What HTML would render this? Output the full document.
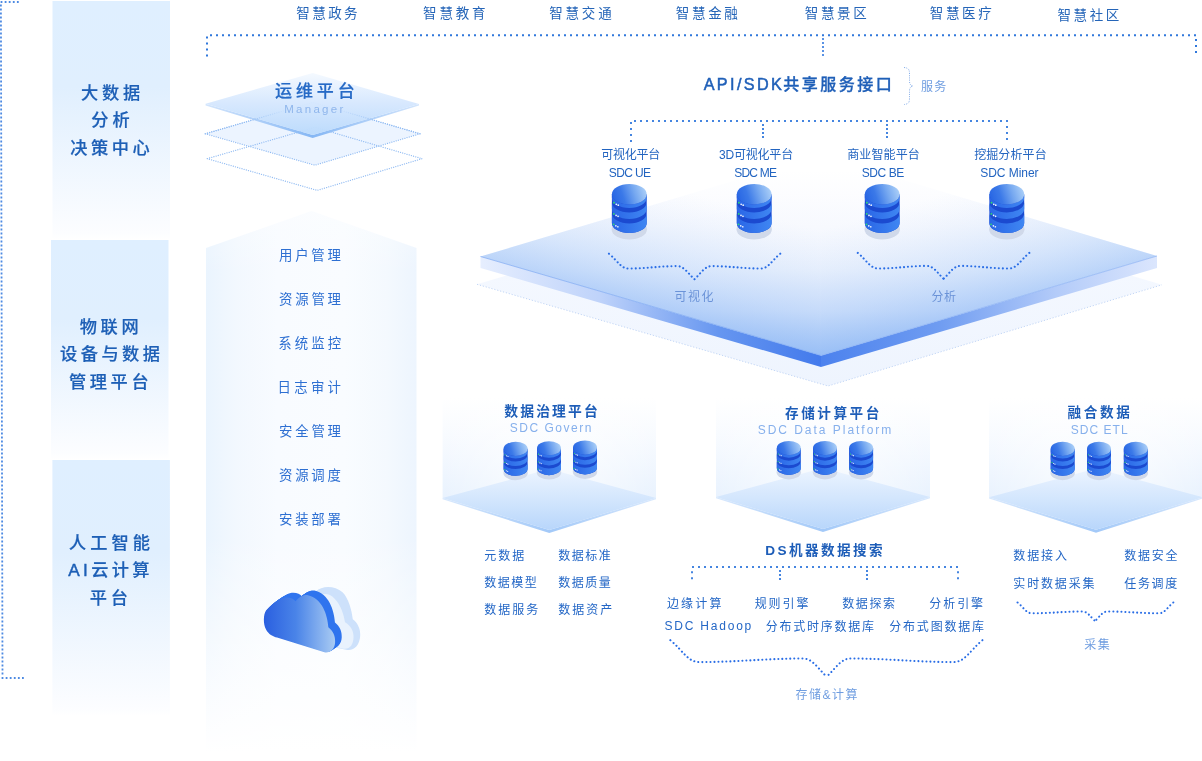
<!DOCTYPE html>
<html lang="zh-CN"><head><meta charset="utf-8"><title>智慧数据平台架构</title>
<style>html,body{margin:0;padding:0;background:#fff;}body{width:1202px;height:761px;overflow:hidden;}svg{display:block;will-change:transform;font-family:'Liberation Sans', 'Noto Sans CJK SC', sans-serif;}</style>
</head><body>
<svg width="1202" height="761" viewBox="0 0 1202 761">
<defs>
<linearGradient id="gPanel" x1="0" y1="0" x2="0" y2="1">
  <stop offset="0" stop-color="#dfefff"/><stop offset="0.36" stop-color="#e0effe"/><stop offset="0.97" stop-color="#fcfdff"/><stop offset="1" stop-color="#ffffff"/>
</linearGradient>
<linearGradient id="gHouseH" x1="0" y1="0" x2="1" y2="0">
  <stop offset="0" stop-color="#eaf4fe"/><stop offset="0.14" stop-color="#f2f8fe"/><stop offset="0.34" stop-color="#f8fbff"/><stop offset="0.66" stop-color="#f9fcff"/><stop offset="0.86" stop-color="#f4f9fe"/><stop offset="1" stop-color="#edf5fe"/>
</linearGradient>
<linearGradient id="gHouseV" x1="0" y1="0" x2="0" y2="1">
  <stop offset="0" stop-color="#ffffff" stop-opacity="0.3"/><stop offset="0.12" stop-color="#ffffff" stop-opacity="0"/><stop offset="0.6" stop-color="#ffffff" stop-opacity="0"/><stop offset="1" stop-color="#ffffff" stop-opacity="1"/>
</linearGradient>
<linearGradient id="gBody" x1="0" y1="0" x2="1" y2="0">
  <stop offset="0" stop-color="#2a66e6"/><stop offset="1" stop-color="#3f86f2"/>
</linearGradient>
<linearGradient id="gDisc" x1="0" y1="0.55" x2="1" y2="0.35">
  <stop offset="0" stop-color="#2866e4"/><stop offset="0.3" stop-color="#3b79e8"/><stop offset="0.65" stop-color="#76a8f0"/><stop offset="1" stop-color="#acd0f8"/>
</linearGradient>
<linearGradient id="gBigTop" gradientUnits="userSpaceOnUse" x1="0" y1="170" x2="0" y2="356">
  <stop offset="0" stop-color="#f8faff" stop-opacity="0"/><stop offset="0.3" stop-color="#f7f9fe" stop-opacity="0.95"/><stop offset="0.54" stop-color="#edf3fd"/><stop offset="0.76" stop-color="#d6e4fb"/><stop offset="1" stop-color="#a4c5f5"/>
</linearGradient>
<linearGradient id="gBigL" gradientUnits="userSpaceOnUse" x1="480" y1="0" x2="821" y2="0">
  <stop offset="0" stop-color="#e6eefe"/><stop offset="0.35" stop-color="#bfd3fa"/><stop offset="0.7" stop-color="#6696f0"/><stop offset="1" stop-color="#437aec"/>
</linearGradient>
<linearGradient id="gBigR" gradientUnits="userSpaceOnUse" x1="821" y1="0" x2="1157" y2="0">
  <stop offset="0" stop-color="#4c82ee"/><stop offset="0.35" stop-color="#6f9cf1"/><stop offset="0.7" stop-color="#b3cbf9"/><stop offset="1" stop-color="#dbe6fd"/>
</linearGradient>
<linearGradient id="gBigLow" gradientUnits="userSpaceOnUse" x1="0" y1="200" x2="0" y2="386">
  <stop offset="0" stop-color="#f4f8ff" stop-opacity="0"/><stop offset="0.4" stop-color="#f4f8ff"/><stop offset="1" stop-color="#eef4fe"/>
</linearGradient>
<linearGradient id="gWall" x1="0" y1="0" x2="0" y2="1">
  <stop offset="0" stop-color="#ecf4fe" stop-opacity="0"/><stop offset="0.3" stop-color="#ecf4fe" stop-opacity="0.4"/><stop offset="0.62" stop-color="#eaf3fe" stop-opacity="0.85"/><stop offset="0.78" stop-color="#e8f2fe" stop-opacity="1"/><stop offset="1" stop-color="#e8f2fe"/>
</linearGradient>
<linearGradient id="gWallH" x1="0" y1="0" x2="1" y2="0">
  <stop offset="0" stop-color="#ffffff" stop-opacity="0"/><stop offset="0.3" stop-color="#ffffff" stop-opacity="0.45"/><stop offset="0.7" stop-color="#ffffff" stop-opacity="0.45"/><stop offset="1" stop-color="#ffffff" stop-opacity="0"/>
</linearGradient>
<linearGradient id="gBase" x1="0" y1="0" x2="0" y2="1">
  <stop offset="0" stop-color="#ecf4ff"/><stop offset="0.5" stop-color="#d3e6fd"/><stop offset="1" stop-color="#b8d6fb"/>
</linearGradient>
<linearGradient id="gMgr" x1="0" y1="0" x2="0" y2="1">
  <stop offset="0" stop-color="#f4f9ff"/><stop offset="0.5" stop-color="#d5e7fe"/><stop offset="1" stop-color="#badafc"/>
</linearGradient>
<linearGradient id="gMgrEdge" x1="0" y1="0" x2="1" y2="0">
  <stop offset="0" stop-color="#d3e5fc"/><stop offset="0.5" stop-color="#86b7f4"/><stop offset="1" stop-color="#d3e5fc"/>
</linearGradient>
<linearGradient id="gThruL" gradientUnits="userSpaceOnUse" x1="205" y1="0" x2="300" y2="0">
  <stop offset="0" stop-color="#8fbaf2"/><stop offset="0.45" stop-color="#8fbaf2" stop-opacity="0.8"/><stop offset="0.85" stop-color="#8fbaf2" stop-opacity="0"/>
</linearGradient>
<linearGradient id="gThruR" gradientUnits="userSpaceOnUse" x1="420" y1="0" x2="325" y2="0">
  <stop offset="0" stop-color="#8fbaf2"/><stop offset="0.45" stop-color="#8fbaf2" stop-opacity="0.8"/><stop offset="0.85" stop-color="#8fbaf2" stop-opacity="0"/>
</linearGradient>
<linearGradient id="gEdgeS" x1="0" y1="0" x2="1" y2="0">
  <stop offset="0" stop-color="#d9e9fd"/><stop offset="0.5" stop-color="#a3c9f8"/><stop offset="1" stop-color="#d9e9fd"/>
</linearGradient>
<linearGradient id="gGlowL" gradientUnits="userSpaceOnUse" x1="650" y1="306" x2="683.5" y2="190.8">
  <stop offset="0" stop-color="#90baf6" stop-opacity="0.55"/><stop offset="0.3" stop-color="#a2c6f8" stop-opacity="0.36"/><stop offset="1" stop-color="#c8dbfa" stop-opacity="0"/>
</linearGradient>
<linearGradient id="gGlowR" gradientUnits="userSpaceOnUse" x1="990" y1="305.5" x2="955.9" y2="190.4">
  <stop offset="0" stop-color="#90baf6" stop-opacity="0.55"/><stop offset="0.3" stop-color="#a2c6f8" stop-opacity="0.36"/><stop offset="1" stop-color="#c8dbfa" stop-opacity="0"/>
</linearGradient>
<linearGradient id="gCloudF" x1="0" y1="0" x2="1" y2="0">
  <stop offset="0" stop-color="#2a5fe0"/><stop offset="0.45" stop-color="#4a84e8"/><stop offset="1" stop-color="#a9cbf3"/>
</linearGradient>
</defs>
<rect width="1202" height="761" fill="#ffffff"/>
<path d="M0.6 2.0 H18.9" fill="none" stroke="#4d8ae2" stroke-width="1.8" stroke-dasharray="1.8 2.2800000000000002"/>
<path d="M0.9 4.6 L2.5 675" fill="none" stroke="#4d8ae2" stroke-width="1.8" stroke-dasharray="1.8 2.2"/>
<path d="M1.6 678.0 H23.9" fill="none" stroke="#4d8ae2" stroke-width="1.8" stroke-dasharray="1.8 2.2800000000000002"/>
<rect x="52.5" y="1" width="117.5" height="239" fill="url(#gPanel)"/>
<rect x="51" y="240" width="117.5" height="220" fill="url(#gPanel)"/>
<rect x="52.4" y="460" width="117.5" height="256" fill="url(#gPanel)"/>
<path d="M210.0 35.2 H1196.0" fill="none" stroke="#3078dc" stroke-width="2" stroke-dasharray="2 4"/>
<path d="M207.0 36.4 V56.4" fill="none" stroke="#3078dc" stroke-width="2" stroke-dasharray="2 4"/>
<path d="M823.0 38.0 V56.0" fill="none" stroke="#5a92e4" stroke-width="2" stroke-dasharray="2 2"/>
<path d="M1196.0 38.9 V52.9" fill="none" stroke="#3078dc" stroke-width="2" stroke-dasharray="2 4"/>
<path d="M205.3 133.8 L314.8 165.2 L420 133.8 L313 102.3 Z" fill="#eaf3ff" fill-opacity="0.92"/>
<path d="M207.2 158.7 L317.2 190.4 L422 158.7 L315 127.3 Z" fill="none" stroke="#8fbaf2" stroke-width="1.3" stroke-linecap="round" stroke-dasharray="0.01 2.25"/>
<path d="M205.3 133.8 L314.8 165.2 L420 133.8 L313 102.3 Z" fill="none" stroke="#8fbaf2" stroke-width="1.3" stroke-linecap="round" stroke-dasharray="0.01 2.25"/>
<polygon points="205.6,103.8 312.7,134.9 419.0,104.0 419.0,105.6 312.7,138.0 205.6,105.4" fill="url(#gMgrEdge)"/>
<polygon points="205.6,103.8 312.7,72.9 419.0,104.0 312.7,134.9" fill="url(#gMgr)" fill-opacity="0.96"/>
<path d="M205.3 133.8 L313 102.3" fill="none" stroke="url(#gThruL)" stroke-width="1.3" stroke-linecap="round" stroke-dasharray="0.01 2.25"/>
<path d="M420 133.8 L313 102.3" fill="none" stroke="url(#gThruR)" stroke-width="1.3" stroke-linecap="round" stroke-dasharray="0.01 2.25"/>
<path d="M206 248 L311.5 211 L416.5 248 L416.5 752 L206 752 Z" fill="url(#gHouseH)"/>
<path d="M205 248 L311.5 210 L417.5 248 L417.5 753 L205 753 Z" fill="url(#gHouseV)"/>
<g transform="translate(240 560)">
<path d="M75.71 31.55 C82.02 25.24 94.64 25.24 102.52 32.33 C108.83 38.64 111.67 50.47 112.78 59.15 C117.98 63.09 120.66 69.40 120.19 75.71 C119.56 85.17 114.35 90.69 107.26 89.91 L88.33 85.96 Z" fill="#cde1fb"/>
<path d="M74.13 39.43 C78.86 33.12 88.33 31.55 94.64 38.64 C100.95 44.95 103.79 54.42 105.05 62.30 C110.41 65.46 113.88 70.98 113.56 77.29 C113.25 85.17 109.62 89.59 103.31 88.64 L88.33 85.17 Z" fill="#e9f2fd"/>
<path transform="translate(0.83 -0.59)" d="M26.03 50.47 C23.34 54.42 23.03 63.88 26.03 69.40 C28.39 74.13 33.12 76.50 37.07 77.60 L84.38 92.27 C89.12 93.38 94.64 90.22 95.11 82.33 C95.43 76.03 93.06 71.29 88.33 67.35 C87.70 55.21 82.02 37.85 67.82 35.17 C62.78 34.70 58.68 37.54 55.52 41.32 C52.84 37.85 46.06 35.96 39.75 39.43 C34.38 42.27 29.65 46.21 26.03 50.47 Z" fill="#2f74ee"/>
<path transform="translate(1.66 -1.18)" d="M26.03 50.47 C23.34 54.42 23.03 63.88 26.03 69.40 C28.39 74.13 33.12 76.50 37.07 77.60 L84.38 92.27 C89.12 93.38 94.64 90.22 95.11 82.33 C95.43 76.03 93.06 71.29 88.33 67.35 C87.70 55.21 82.02 37.85 67.82 35.17 C62.78 34.70 58.68 37.54 55.52 41.32 C52.84 37.85 46.06 35.96 39.75 39.43 C34.38 42.27 29.65 46.21 26.03 50.47 Z" fill="#2f74ee"/>
<path transform="translate(2.48 -1.77)" d="M26.03 50.47 C23.34 54.42 23.03 63.88 26.03 69.40 C28.39 74.13 33.12 76.50 37.07 77.60 L84.38 92.27 C89.12 93.38 94.64 90.22 95.11 82.33 C95.43 76.03 93.06 71.29 88.33 67.35 C87.70 55.21 82.02 37.85 67.82 35.17 C62.78 34.70 58.68 37.54 55.52 41.32 C52.84 37.85 46.06 35.96 39.75 39.43 C34.38 42.27 29.65 46.21 26.03 50.47 Z" fill="#2f74ee"/>
<path transform="translate(3.31 -2.37)" d="M26.03 50.47 C23.34 54.42 23.03 63.88 26.03 69.40 C28.39 74.13 33.12 76.50 37.07 77.60 L84.38 92.27 C89.12 93.38 94.64 90.22 95.11 82.33 C95.43 76.03 93.06 71.29 88.33 67.35 C87.70 55.21 82.02 37.85 67.82 35.17 C62.78 34.70 58.68 37.54 55.52 41.32 C52.84 37.85 46.06 35.96 39.75 39.43 C34.38 42.27 29.65 46.21 26.03 50.47 Z" fill="#2f74ee"/>
<path transform="translate(4.14 -2.96)" d="M26.03 50.47 C23.34 54.42 23.03 63.88 26.03 69.40 C28.39 74.13 33.12 76.50 37.07 77.60 L84.38 92.27 C89.12 93.38 94.64 90.22 95.11 82.33 C95.43 76.03 93.06 71.29 88.33 67.35 C87.70 55.21 82.02 37.85 67.82 35.17 C62.78 34.70 58.68 37.54 55.52 41.32 C52.84 37.85 46.06 35.96 39.75 39.43 C34.38 42.27 29.65 46.21 26.03 50.47 Z" fill="#2f74ee"/>
<path transform="translate(4.97 -3.55)" d="M26.03 50.47 C23.34 54.42 23.03 63.88 26.03 69.40 C28.39 74.13 33.12 76.50 37.07 77.60 L84.38 92.27 C89.12 93.38 94.64 90.22 95.11 82.33 C95.43 76.03 93.06 71.29 88.33 67.35 C87.70 55.21 82.02 37.85 67.82 35.17 C62.78 34.70 58.68 37.54 55.52 41.32 C52.84 37.85 46.06 35.96 39.75 39.43 C34.38 42.27 29.65 46.21 26.03 50.47 Z" fill="#2f74ee"/>
<path transform="translate(5.80 -4.14)" d="M26.03 50.47 C23.34 54.42 23.03 63.88 26.03 69.40 C28.39 74.13 33.12 76.50 37.07 77.60 L84.38 92.27 C89.12 93.38 94.64 90.22 95.11 82.33 C95.43 76.03 93.06 71.29 88.33 67.35 C87.70 55.21 82.02 37.85 67.82 35.17 C62.78 34.70 58.68 37.54 55.52 41.32 C52.84 37.85 46.06 35.96 39.75 39.43 C34.38 42.27 29.65 46.21 26.03 50.47 Z" fill="#2f74ee"/>
<path transform="translate(6.62 -4.73)" d="M26.03 50.47 C23.34 54.42 23.03 63.88 26.03 69.40 C28.39 74.13 33.12 76.50 37.07 77.60 L84.38 92.27 C89.12 93.38 94.64 90.22 95.11 82.33 C95.43 76.03 93.06 71.29 88.33 67.35 C87.70 55.21 82.02 37.85 67.82 35.17 C62.78 34.70 58.68 37.54 55.52 41.32 C52.84 37.85 46.06 35.96 39.75 39.43 C34.38 42.27 29.65 46.21 26.03 50.47 Z" fill="#2f74ee"/>
<path d="M26.03 50.47 C23.34 54.42 23.03 63.88 26.03 69.40 C28.39 74.13 33.12 76.50 37.07 77.60 L84.38 92.27 C89.12 93.38 94.64 90.22 95.11 82.33 C95.43 76.03 93.06 71.29 88.33 67.35 C87.70 55.21 82.02 37.85 67.82 35.17 C62.78 34.70 58.68 37.54 55.52 41.32 C52.84 37.85 46.06 35.96 39.75 39.43 C34.38 42.27 29.65 46.21 26.03 50.47 Z" fill="url(#gCloudF)"/>
</g>
<path d="M904 67.5 C909 68 909.5 70 909.5 74 L909.5 81 C909.5 84 910.5 85.5 913 86 C910.5 86.5 909.5 88 909.5 91 L909.5 98 C909.5 102 909 104 904 104.5" fill="none" stroke="#7ba6e6" stroke-width="0.9" stroke-dasharray="1 1.2"/>
<path d="M634.0 121.0 H1008.0" fill="none" stroke="#4585e0" stroke-width="2" stroke-dasharray="2 4"/>
<path d="M631.0 122.0 V142.0" fill="none" stroke="#4585e0" stroke-width="2" stroke-dasharray="2 4"/>
<path d="M763.0 124.0 V138.0" fill="none" stroke="#4585e0" stroke-width="2" stroke-dasharray="2 2"/>
<path d="M887.0 124.0 V138.0" fill="none" stroke="#4585e0" stroke-width="2" stroke-dasharray="2 2"/>
<path d="M1007.0 126.0 V140.0" fill="none" stroke="#4585e0" stroke-width="2" stroke-dasharray="2 4"/>
<polygon points="477.0,284.3 820.0,183.0 1162.0,284.8 828.0,386.0" fill="url(#gBigLow)"/>
<path d="M477 284.3 L828 386 L1162 284.8" fill="none" stroke="#c2d6f6" stroke-width="1" stroke-dasharray="1.2 1.8"/>
<polygon points="480.5,256.5 821.0,355.5 821.0,367.0 480.5,268.0" fill="url(#gBigL)"/>
<polygon points="821.0,355.5 1157.0,256.0 1157.0,268.0 821.0,367.0" fill="url(#gBigR)"/>
<polygon points="480.5,256.5 820.0,155.0 1157.0,256.0 821.0,355.5" fill="url(#gBigTop)"/>
<polygon points="480.5,256.5 820.0,155.0 821.0,355.5" fill="url(#gGlowL)"/>
<polygon points="820.0,155.0 1157.0,256.0 821.0,355.5" fill="url(#gGlowR)"/>
<path d="M480.5 256.5 L821 355.5" stroke="#7ea8f2" stroke-width="1" fill="none" opacity="0.7"/>
<path d="M821 355.5 L1157 256" stroke="#8db2f4" stroke-width="1" fill="none" opacity="0.7"/>
<g transform="translate(629.3 183.9) scale(0.9943)">
<ellipse cx="0" cy="45.6" rx="17.8" ry="10.4" fill="#d0d9ea"/>
<path d="M-17.5 10.3 L-17.5 39.2 A17.5 10.3 0 0 0 17.5 39.2 L17.5 10.3 Z" fill="#1b4ad0"/>
<path d="M-17.5 10.3 A17.5 10.3 0 0 0 17.5 10.3 L17.5 14.0 A17.5 10.3 0 0 1 -17.5 14.0 Z" fill="url(#gBody)"/>
<path d="M-17.5 18.4 A17.5 10.3 0 0 0 17.5 18.4 L17.5 25.0 A17.5 10.3 0 0 1 -17.5 25.0 Z" fill="url(#gBody)"/>
<path d="M-17.5 29.5 A17.5 10.3 0 0 0 17.5 29.5 L17.5 39.2 A17.5 10.3 0 0 1 -17.5 39.2 Z" fill="url(#gBody)"/>
<ellipse cx="0" cy="10.3" rx="17.5" ry="10.3" fill="url(#gDisc)"/>
<circle cx="-15.4" cy="19.0" r="0.95" fill="#2fd873"/>
<circle cx="-13.1" cy="20.5" r="0.85" fill="#eef4ff"/>
<circle cx="-11.1" cy="21.4" r="0.85" fill="#eef4ff"/>
<circle cx="-15.6" cy="30.2" r="0.95" fill="#2fd873"/>
<circle cx="-13.3" cy="31.7" r="0.85" fill="#eef4ff"/>
<circle cx="-11.3" cy="32.6" r="0.85" fill="#eef4ff"/>
<circle cx="-15.8" cy="40.7" r="0.95" fill="#2fd873"/>
<circle cx="-13.5" cy="42.2" r="0.85" fill="#eef4ff"/>
<circle cx="-11.5" cy="43.1" r="0.85" fill="#eef4ff"/>
</g>
<g transform="translate(754.2 183.9) scale(0.9943)">
<ellipse cx="0" cy="45.6" rx="17.8" ry="10.4" fill="#d0d9ea"/>
<path d="M-17.5 10.3 L-17.5 39.2 A17.5 10.3 0 0 0 17.5 39.2 L17.5 10.3 Z" fill="#1b4ad0"/>
<path d="M-17.5 10.3 A17.5 10.3 0 0 0 17.5 10.3 L17.5 14.0 A17.5 10.3 0 0 1 -17.5 14.0 Z" fill="url(#gBody)"/>
<path d="M-17.5 18.4 A17.5 10.3 0 0 0 17.5 18.4 L17.5 25.0 A17.5 10.3 0 0 1 -17.5 25.0 Z" fill="url(#gBody)"/>
<path d="M-17.5 29.5 A17.5 10.3 0 0 0 17.5 29.5 L17.5 39.2 A17.5 10.3 0 0 1 -17.5 39.2 Z" fill="url(#gBody)"/>
<ellipse cx="0" cy="10.3" rx="17.5" ry="10.3" fill="url(#gDisc)"/>
<circle cx="-15.4" cy="19.0" r="0.95" fill="#2fd873"/>
<circle cx="-13.1" cy="20.5" r="0.85" fill="#eef4ff"/>
<circle cx="-11.1" cy="21.4" r="0.85" fill="#eef4ff"/>
<circle cx="-15.6" cy="30.2" r="0.95" fill="#2fd873"/>
<circle cx="-13.3" cy="31.7" r="0.85" fill="#eef4ff"/>
<circle cx="-11.3" cy="32.6" r="0.85" fill="#eef4ff"/>
<circle cx="-15.8" cy="40.7" r="0.95" fill="#2fd873"/>
<circle cx="-13.5" cy="42.2" r="0.85" fill="#eef4ff"/>
<circle cx="-11.5" cy="43.1" r="0.85" fill="#eef4ff"/>
</g>
<g transform="translate(882.2 183.9) scale(0.9943)">
<ellipse cx="0" cy="45.6" rx="17.8" ry="10.4" fill="#d0d9ea"/>
<path d="M-17.5 10.3 L-17.5 39.2 A17.5 10.3 0 0 0 17.5 39.2 L17.5 10.3 Z" fill="#1b4ad0"/>
<path d="M-17.5 10.3 A17.5 10.3 0 0 0 17.5 10.3 L17.5 14.0 A17.5 10.3 0 0 1 -17.5 14.0 Z" fill="url(#gBody)"/>
<path d="M-17.5 18.4 A17.5 10.3 0 0 0 17.5 18.4 L17.5 25.0 A17.5 10.3 0 0 1 -17.5 25.0 Z" fill="url(#gBody)"/>
<path d="M-17.5 29.5 A17.5 10.3 0 0 0 17.5 29.5 L17.5 39.2 A17.5 10.3 0 0 1 -17.5 39.2 Z" fill="url(#gBody)"/>
<ellipse cx="0" cy="10.3" rx="17.5" ry="10.3" fill="url(#gDisc)"/>
<circle cx="-15.4" cy="19.0" r="0.95" fill="#2fd873"/>
<circle cx="-13.1" cy="20.5" r="0.85" fill="#eef4ff"/>
<circle cx="-11.1" cy="21.4" r="0.85" fill="#eef4ff"/>
<circle cx="-15.6" cy="30.2" r="0.95" fill="#2fd873"/>
<circle cx="-13.3" cy="31.7" r="0.85" fill="#eef4ff"/>
<circle cx="-11.3" cy="32.6" r="0.85" fill="#eef4ff"/>
<circle cx="-15.8" cy="40.7" r="0.95" fill="#2fd873"/>
<circle cx="-13.5" cy="42.2" r="0.85" fill="#eef4ff"/>
<circle cx="-11.5" cy="43.1" r="0.85" fill="#eef4ff"/>
</g>
<g transform="translate(1006.8 183.9) scale(0.9943)">
<ellipse cx="0" cy="45.6" rx="17.8" ry="10.4" fill="#d0d9ea"/>
<path d="M-17.5 10.3 L-17.5 39.2 A17.5 10.3 0 0 0 17.5 39.2 L17.5 10.3 Z" fill="#1b4ad0"/>
<path d="M-17.5 10.3 A17.5 10.3 0 0 0 17.5 10.3 L17.5 14.0 A17.5 10.3 0 0 1 -17.5 14.0 Z" fill="url(#gBody)"/>
<path d="M-17.5 18.4 A17.5 10.3 0 0 0 17.5 18.4 L17.5 25.0 A17.5 10.3 0 0 1 -17.5 25.0 Z" fill="url(#gBody)"/>
<path d="M-17.5 29.5 A17.5 10.3 0 0 0 17.5 29.5 L17.5 39.2 A17.5 10.3 0 0 1 -17.5 39.2 Z" fill="url(#gBody)"/>
<ellipse cx="0" cy="10.3" rx="17.5" ry="10.3" fill="url(#gDisc)"/>
<circle cx="-15.4" cy="19.0" r="0.95" fill="#2fd873"/>
<circle cx="-13.1" cy="20.5" r="0.85" fill="#eef4ff"/>
<circle cx="-11.1" cy="21.4" r="0.85" fill="#eef4ff"/>
<circle cx="-15.6" cy="30.2" r="0.95" fill="#2fd873"/>
<circle cx="-13.3" cy="31.7" r="0.85" fill="#eef4ff"/>
<circle cx="-11.3" cy="32.6" r="0.85" fill="#eef4ff"/>
<circle cx="-15.8" cy="40.7" r="0.95" fill="#2fd873"/>
<circle cx="-13.5" cy="42.2" r="0.85" fill="#eef4ff"/>
<circle cx="-11.5" cy="43.1" r="0.85" fill="#eef4ff"/>
</g>
<path d="M609.0 253.7 C617.9 261.2 620.8 268.5 628.7 268.5 C645.6 268.5 660.1 266.1 677.0 266.1 C684.0 266.1 687.4 272.7 694.4 279.3" fill="none" stroke="#2a6ee6" stroke-width="2.1" stroke-linecap="round" stroke-dasharray="0.01 4.0" opacity="1"/>
<path d="M780.2 253.7 C771.3 261.2 768.4 268.5 760.5 268.5 C743.4 268.5 728.8 266.1 711.8 266.1 C704.8 266.1 701.4 272.7 694.4 279.3" fill="none" stroke="#2a6ee6" stroke-width="2.1" stroke-linecap="round" stroke-dasharray="0.01 4.0" opacity="1"/>
<path d="M857.8 252.9 C867.1 260.8 870.2 268.5 878.5 268.5 C895.4 268.5 909.9 265.9 926.8 265.9 C933.5 265.9 936.9 272.4 943.6 278.8" fill="none" stroke="#2a6ee6" stroke-width="2.1" stroke-linecap="round" stroke-dasharray="0.01 4.0" opacity="1"/>
<path d="M1029.3 252.9 C1020.0 260.8 1016.9 268.5 1008.6 268.5 C991.7 268.5 977.3 265.9 960.4 265.9 C953.7 265.9 950.3 272.4 943.6 278.8" fill="none" stroke="#2a6ee6" stroke-width="2.1" stroke-linecap="round" stroke-dasharray="0.01 4.0" opacity="1"/>
<path d="M442.6 398 L656 398 L656 498 L549.3 530 L442.6 498 Z" fill="url(#gWall)"/>
<path d="M442.6 398 L656 398 L656 498 L549.3 530 L442.6 498 Z" fill="url(#gWallH)"/>
<polygon points="442.6,498.0 549.3,530.0 656.0,498.0 656.0,499.2 549.3,533.0 442.6,499.2" fill="url(#gEdgeS)"/>
<polygon points="442.6,498.0 549.3,469.0 656.0,498.0 549.3,530.0" fill="url(#gBase)"/>
<path d="M716 398 L930 398 L930 497 L823.0 529 L716 497 Z" fill="url(#gWall)"/>
<path d="M716 398 L930 398 L930 497 L823.0 529 L716 497 Z" fill="url(#gWallH)"/>
<polygon points="716.0,497.0 823.0,529.0 930.0,497.0 930.0,498.2 823.0,532.0 716.0,498.2" fill="url(#gEdgeS)"/>
<polygon points="716.0,497.0 823.0,468.0 930.0,497.0 823.0,529.0" fill="url(#gBase)"/>
<path d="M989 398 L1203 398 L1203 497.3 L1096.0 529.7 L989 497.3 Z" fill="url(#gWall)"/>
<path d="M989 398 L1203 398 L1203 497.3 L1096.0 529.7 L989 497.3 Z" fill="url(#gWallH)"/>
<polygon points="989.0,497.3 1096.0,529.7 1203.0,497.3 1203.0,498.5 1096.0,532.7 989.0,498.5" fill="url(#gEdgeS)"/>
<polygon points="989.0,497.3 1096.0,468.5 1203.0,497.3 1096.0,529.7" fill="url(#gBase)"/>
<g transform="translate(515.6 441.8) scale(0.6857)">
<ellipse cx="0" cy="45.6" rx="17.8" ry="10.4" fill="#d0d9ea"/>
<path d="M-17.5 10.3 L-17.5 39.2 A17.5 10.3 0 0 0 17.5 39.2 L17.5 10.3 Z" fill="#1b4ad0"/>
<path d="M-17.5 10.3 A17.5 10.3 0 0 0 17.5 10.3 L17.5 14.0 A17.5 10.3 0 0 1 -17.5 14.0 Z" fill="url(#gBody)"/>
<path d="M-17.5 18.4 A17.5 10.3 0 0 0 17.5 18.4 L17.5 25.0 A17.5 10.3 0 0 1 -17.5 25.0 Z" fill="url(#gBody)"/>
<path d="M-17.5 29.5 A17.5 10.3 0 0 0 17.5 29.5 L17.5 39.2 A17.5 10.3 0 0 1 -17.5 39.2 Z" fill="url(#gBody)"/>
<ellipse cx="0" cy="10.3" rx="17.5" ry="10.3" fill="url(#gDisc)"/>
<circle cx="-15.4" cy="19.0" r="0.95" fill="#2fd873"/>
<circle cx="-13.1" cy="20.5" r="0.85" fill="#eef4ff"/>
<circle cx="-11.1" cy="21.4" r="0.85" fill="#eef4ff"/>
<circle cx="-15.6" cy="30.2" r="0.95" fill="#2fd873"/>
<circle cx="-13.3" cy="31.7" r="0.85" fill="#eef4ff"/>
<circle cx="-11.3" cy="32.6" r="0.85" fill="#eef4ff"/>
<circle cx="-15.8" cy="40.7" r="0.95" fill="#2fd873"/>
<circle cx="-13.5" cy="42.2" r="0.85" fill="#eef4ff"/>
<circle cx="-11.5" cy="43.1" r="0.85" fill="#eef4ff"/>
</g>
<g transform="translate(549.0 441.2) scale(0.6857)">
<ellipse cx="0" cy="45.6" rx="17.8" ry="10.4" fill="#d0d9ea"/>
<path d="M-17.5 10.3 L-17.5 39.2 A17.5 10.3 0 0 0 17.5 39.2 L17.5 10.3 Z" fill="#1b4ad0"/>
<path d="M-17.5 10.3 A17.5 10.3 0 0 0 17.5 10.3 L17.5 14.0 A17.5 10.3 0 0 1 -17.5 14.0 Z" fill="url(#gBody)"/>
<path d="M-17.5 18.4 A17.5 10.3 0 0 0 17.5 18.4 L17.5 25.0 A17.5 10.3 0 0 1 -17.5 25.0 Z" fill="url(#gBody)"/>
<path d="M-17.5 29.5 A17.5 10.3 0 0 0 17.5 29.5 L17.5 39.2 A17.5 10.3 0 0 1 -17.5 39.2 Z" fill="url(#gBody)"/>
<ellipse cx="0" cy="10.3" rx="17.5" ry="10.3" fill="url(#gDisc)"/>
<circle cx="-15.4" cy="19.0" r="0.95" fill="#2fd873"/>
<circle cx="-13.1" cy="20.5" r="0.85" fill="#eef4ff"/>
<circle cx="-11.1" cy="21.4" r="0.85" fill="#eef4ff"/>
<circle cx="-15.6" cy="30.2" r="0.95" fill="#2fd873"/>
<circle cx="-13.3" cy="31.7" r="0.85" fill="#eef4ff"/>
<circle cx="-11.3" cy="32.6" r="0.85" fill="#eef4ff"/>
<circle cx="-15.8" cy="40.7" r="0.95" fill="#2fd873"/>
<circle cx="-13.5" cy="42.2" r="0.85" fill="#eef4ff"/>
<circle cx="-11.5" cy="43.1" r="0.85" fill="#eef4ff"/>
</g>
<g transform="translate(585.0 440.5) scale(0.6857)">
<ellipse cx="0" cy="45.6" rx="17.8" ry="10.4" fill="#d0d9ea"/>
<path d="M-17.5 10.3 L-17.5 39.2 A17.5 10.3 0 0 0 17.5 39.2 L17.5 10.3 Z" fill="#1b4ad0"/>
<path d="M-17.5 10.3 A17.5 10.3 0 0 0 17.5 10.3 L17.5 14.0 A17.5 10.3 0 0 1 -17.5 14.0 Z" fill="url(#gBody)"/>
<path d="M-17.5 18.4 A17.5 10.3 0 0 0 17.5 18.4 L17.5 25.0 A17.5 10.3 0 0 1 -17.5 25.0 Z" fill="url(#gBody)"/>
<path d="M-17.5 29.5 A17.5 10.3 0 0 0 17.5 29.5 L17.5 39.2 A17.5 10.3 0 0 1 -17.5 39.2 Z" fill="url(#gBody)"/>
<ellipse cx="0" cy="10.3" rx="17.5" ry="10.3" fill="url(#gDisc)"/>
<circle cx="-15.4" cy="19.0" r="0.95" fill="#2fd873"/>
<circle cx="-13.1" cy="20.5" r="0.85" fill="#eef4ff"/>
<circle cx="-11.1" cy="21.4" r="0.85" fill="#eef4ff"/>
<circle cx="-15.6" cy="30.2" r="0.95" fill="#2fd873"/>
<circle cx="-13.3" cy="31.7" r="0.85" fill="#eef4ff"/>
<circle cx="-11.3" cy="32.6" r="0.85" fill="#eef4ff"/>
<circle cx="-15.8" cy="40.7" r="0.95" fill="#2fd873"/>
<circle cx="-13.5" cy="42.2" r="0.85" fill="#eef4ff"/>
<circle cx="-11.5" cy="43.1" r="0.85" fill="#eef4ff"/>
</g>
<g transform="translate(788.8 441.0) scale(0.6857)">
<ellipse cx="0" cy="45.6" rx="17.8" ry="10.4" fill="#d0d9ea"/>
<path d="M-17.5 10.3 L-17.5 39.2 A17.5 10.3 0 0 0 17.5 39.2 L17.5 10.3 Z" fill="#1b4ad0"/>
<path d="M-17.5 10.3 A17.5 10.3 0 0 0 17.5 10.3 L17.5 14.0 A17.5 10.3 0 0 1 -17.5 14.0 Z" fill="url(#gBody)"/>
<path d="M-17.5 18.4 A17.5 10.3 0 0 0 17.5 18.4 L17.5 25.0 A17.5 10.3 0 0 1 -17.5 25.0 Z" fill="url(#gBody)"/>
<path d="M-17.5 29.5 A17.5 10.3 0 0 0 17.5 29.5 L17.5 39.2 A17.5 10.3 0 0 1 -17.5 39.2 Z" fill="url(#gBody)"/>
<ellipse cx="0" cy="10.3" rx="17.5" ry="10.3" fill="url(#gDisc)"/>
<circle cx="-15.4" cy="19.0" r="0.95" fill="#2fd873"/>
<circle cx="-13.1" cy="20.5" r="0.85" fill="#eef4ff"/>
<circle cx="-11.1" cy="21.4" r="0.85" fill="#eef4ff"/>
<circle cx="-15.6" cy="30.2" r="0.95" fill="#2fd873"/>
<circle cx="-13.3" cy="31.7" r="0.85" fill="#eef4ff"/>
<circle cx="-11.3" cy="32.6" r="0.85" fill="#eef4ff"/>
<circle cx="-15.8" cy="40.7" r="0.95" fill="#2fd873"/>
<circle cx="-13.5" cy="42.2" r="0.85" fill="#eef4ff"/>
<circle cx="-11.5" cy="43.1" r="0.85" fill="#eef4ff"/>
</g>
<g transform="translate(825.0 441.0) scale(0.6857)">
<ellipse cx="0" cy="45.6" rx="17.8" ry="10.4" fill="#d0d9ea"/>
<path d="M-17.5 10.3 L-17.5 39.2 A17.5 10.3 0 0 0 17.5 39.2 L17.5 10.3 Z" fill="#1b4ad0"/>
<path d="M-17.5 10.3 A17.5 10.3 0 0 0 17.5 10.3 L17.5 14.0 A17.5 10.3 0 0 1 -17.5 14.0 Z" fill="url(#gBody)"/>
<path d="M-17.5 18.4 A17.5 10.3 0 0 0 17.5 18.4 L17.5 25.0 A17.5 10.3 0 0 1 -17.5 25.0 Z" fill="url(#gBody)"/>
<path d="M-17.5 29.5 A17.5 10.3 0 0 0 17.5 29.5 L17.5 39.2 A17.5 10.3 0 0 1 -17.5 39.2 Z" fill="url(#gBody)"/>
<ellipse cx="0" cy="10.3" rx="17.5" ry="10.3" fill="url(#gDisc)"/>
<circle cx="-15.4" cy="19.0" r="0.95" fill="#2fd873"/>
<circle cx="-13.1" cy="20.5" r="0.85" fill="#eef4ff"/>
<circle cx="-11.1" cy="21.4" r="0.85" fill="#eef4ff"/>
<circle cx="-15.6" cy="30.2" r="0.95" fill="#2fd873"/>
<circle cx="-13.3" cy="31.7" r="0.85" fill="#eef4ff"/>
<circle cx="-11.3" cy="32.6" r="0.85" fill="#eef4ff"/>
<circle cx="-15.8" cy="40.7" r="0.95" fill="#2fd873"/>
<circle cx="-13.5" cy="42.2" r="0.85" fill="#eef4ff"/>
<circle cx="-11.5" cy="43.1" r="0.85" fill="#eef4ff"/>
</g>
<g transform="translate(861.1 441.0) scale(0.6857)">
<ellipse cx="0" cy="45.6" rx="17.8" ry="10.4" fill="#d0d9ea"/>
<path d="M-17.5 10.3 L-17.5 39.2 A17.5 10.3 0 0 0 17.5 39.2 L17.5 10.3 Z" fill="#1b4ad0"/>
<path d="M-17.5 10.3 A17.5 10.3 0 0 0 17.5 10.3 L17.5 14.0 A17.5 10.3 0 0 1 -17.5 14.0 Z" fill="url(#gBody)"/>
<path d="M-17.5 18.4 A17.5 10.3 0 0 0 17.5 18.4 L17.5 25.0 A17.5 10.3 0 0 1 -17.5 25.0 Z" fill="url(#gBody)"/>
<path d="M-17.5 29.5 A17.5 10.3 0 0 0 17.5 29.5 L17.5 39.2 A17.5 10.3 0 0 1 -17.5 39.2 Z" fill="url(#gBody)"/>
<ellipse cx="0" cy="10.3" rx="17.5" ry="10.3" fill="url(#gDisc)"/>
<circle cx="-15.4" cy="19.0" r="0.95" fill="#2fd873"/>
<circle cx="-13.1" cy="20.5" r="0.85" fill="#eef4ff"/>
<circle cx="-11.1" cy="21.4" r="0.85" fill="#eef4ff"/>
<circle cx="-15.6" cy="30.2" r="0.95" fill="#2fd873"/>
<circle cx="-13.3" cy="31.7" r="0.85" fill="#eef4ff"/>
<circle cx="-11.3" cy="32.6" r="0.85" fill="#eef4ff"/>
<circle cx="-15.8" cy="40.7" r="0.95" fill="#2fd873"/>
<circle cx="-13.5" cy="42.2" r="0.85" fill="#eef4ff"/>
<circle cx="-11.5" cy="43.1" r="0.85" fill="#eef4ff"/>
</g>
<g transform="translate(1062.7 441.8) scale(0.6857)">
<ellipse cx="0" cy="45.6" rx="17.8" ry="10.4" fill="#d0d9ea"/>
<path d="M-17.5 10.3 L-17.5 39.2 A17.5 10.3 0 0 0 17.5 39.2 L17.5 10.3 Z" fill="#1b4ad0"/>
<path d="M-17.5 10.3 A17.5 10.3 0 0 0 17.5 10.3 L17.5 14.0 A17.5 10.3 0 0 1 -17.5 14.0 Z" fill="url(#gBody)"/>
<path d="M-17.5 18.4 A17.5 10.3 0 0 0 17.5 18.4 L17.5 25.0 A17.5 10.3 0 0 1 -17.5 25.0 Z" fill="url(#gBody)"/>
<path d="M-17.5 29.5 A17.5 10.3 0 0 0 17.5 29.5 L17.5 39.2 A17.5 10.3 0 0 1 -17.5 39.2 Z" fill="url(#gBody)"/>
<ellipse cx="0" cy="10.3" rx="17.5" ry="10.3" fill="url(#gDisc)"/>
<circle cx="-15.4" cy="19.0" r="0.95" fill="#2fd873"/>
<circle cx="-13.1" cy="20.5" r="0.85" fill="#eef4ff"/>
<circle cx="-11.1" cy="21.4" r="0.85" fill="#eef4ff"/>
<circle cx="-15.6" cy="30.2" r="0.95" fill="#2fd873"/>
<circle cx="-13.3" cy="31.7" r="0.85" fill="#eef4ff"/>
<circle cx="-11.3" cy="32.6" r="0.85" fill="#eef4ff"/>
<circle cx="-15.8" cy="40.7" r="0.95" fill="#2fd873"/>
<circle cx="-13.5" cy="42.2" r="0.85" fill="#eef4ff"/>
<circle cx="-11.5" cy="43.1" r="0.85" fill="#eef4ff"/>
</g>
<g transform="translate(1099.0 441.8) scale(0.6857)">
<ellipse cx="0" cy="45.6" rx="17.8" ry="10.4" fill="#d0d9ea"/>
<path d="M-17.5 10.3 L-17.5 39.2 A17.5 10.3 0 0 0 17.5 39.2 L17.5 10.3 Z" fill="#1b4ad0"/>
<path d="M-17.5 10.3 A17.5 10.3 0 0 0 17.5 10.3 L17.5 14.0 A17.5 10.3 0 0 1 -17.5 14.0 Z" fill="url(#gBody)"/>
<path d="M-17.5 18.4 A17.5 10.3 0 0 0 17.5 18.4 L17.5 25.0 A17.5 10.3 0 0 1 -17.5 25.0 Z" fill="url(#gBody)"/>
<path d="M-17.5 29.5 A17.5 10.3 0 0 0 17.5 29.5 L17.5 39.2 A17.5 10.3 0 0 1 -17.5 39.2 Z" fill="url(#gBody)"/>
<ellipse cx="0" cy="10.3" rx="17.5" ry="10.3" fill="url(#gDisc)"/>
<circle cx="-15.4" cy="19.0" r="0.95" fill="#2fd873"/>
<circle cx="-13.1" cy="20.5" r="0.85" fill="#eef4ff"/>
<circle cx="-11.1" cy="21.4" r="0.85" fill="#eef4ff"/>
<circle cx="-15.6" cy="30.2" r="0.95" fill="#2fd873"/>
<circle cx="-13.3" cy="31.7" r="0.85" fill="#eef4ff"/>
<circle cx="-11.3" cy="32.6" r="0.85" fill="#eef4ff"/>
<circle cx="-15.8" cy="40.7" r="0.95" fill="#2fd873"/>
<circle cx="-13.5" cy="42.2" r="0.85" fill="#eef4ff"/>
<circle cx="-11.5" cy="43.1" r="0.85" fill="#eef4ff"/>
</g>
<g transform="translate(1135.8 441.8) scale(0.6857)">
<ellipse cx="0" cy="45.6" rx="17.8" ry="10.4" fill="#d0d9ea"/>
<path d="M-17.5 10.3 L-17.5 39.2 A17.5 10.3 0 0 0 17.5 39.2 L17.5 10.3 Z" fill="#1b4ad0"/>
<path d="M-17.5 10.3 A17.5 10.3 0 0 0 17.5 10.3 L17.5 14.0 A17.5 10.3 0 0 1 -17.5 14.0 Z" fill="url(#gBody)"/>
<path d="M-17.5 18.4 A17.5 10.3 0 0 0 17.5 18.4 L17.5 25.0 A17.5 10.3 0 0 1 -17.5 25.0 Z" fill="url(#gBody)"/>
<path d="M-17.5 29.5 A17.5 10.3 0 0 0 17.5 29.5 L17.5 39.2 A17.5 10.3 0 0 1 -17.5 39.2 Z" fill="url(#gBody)"/>
<ellipse cx="0" cy="10.3" rx="17.5" ry="10.3" fill="url(#gDisc)"/>
<circle cx="-15.4" cy="19.0" r="0.95" fill="#2fd873"/>
<circle cx="-13.1" cy="20.5" r="0.85" fill="#eef4ff"/>
<circle cx="-11.1" cy="21.4" r="0.85" fill="#eef4ff"/>
<circle cx="-15.6" cy="30.2" r="0.95" fill="#2fd873"/>
<circle cx="-13.3" cy="31.7" r="0.85" fill="#eef4ff"/>
<circle cx="-11.3" cy="32.6" r="0.85" fill="#eef4ff"/>
<circle cx="-15.8" cy="40.7" r="0.95" fill="#2fd873"/>
<circle cx="-13.5" cy="42.2" r="0.85" fill="#eef4ff"/>
<circle cx="-11.5" cy="43.1" r="0.85" fill="#eef4ff"/>
</g>
<path d="M692.0 567.0 H958.0" fill="none" stroke="#4585e0" stroke-width="2" stroke-dasharray="2 4"/>
<path d="M692.0 571.2 V579.2" fill="none" stroke="#4585e0" stroke-width="2" stroke-dasharray="2 4"/>
<path d="M780.0 570.0 V580.0" fill="none" stroke="#4585e0" stroke-width="2" stroke-dasharray="2 2"/>
<path d="M867.0 570.0 V580.0" fill="none" stroke="#4585e0" stroke-width="2" stroke-dasharray="2 2"/>
<path d="M958.0 571.2 V579.2" fill="none" stroke="#4585e0" stroke-width="2" stroke-dasharray="2 4"/>
<path d="M670.4 640.2 C683.5 651.3 687.9 662.1 699.5 662.1 C735.7 662.1 766.7 658.5 802.9 658.5 C812.4 658.5 817.2 667.7 826.7 676.7" fill="none" stroke="#2a6ee6" stroke-width="2.1" stroke-linecap="round" stroke-dasharray="0.01 4.0" opacity="1"/>
<path d="M982.4 640.2 C969.3 651.3 964.9 662.1 953.3 662.1 C917.3 662.1 886.5 658.5 850.5 658.5 C841.0 658.5 836.2 667.7 826.7 676.7" fill="none" stroke="#2a6ee6" stroke-width="2.1" stroke-linecap="round" stroke-dasharray="0.01 4.0" opacity="1"/>
<path d="M1017.6 602.5 C1024.1 607.9 1026.2 613.3 1032.0 613.3 C1049.7 613.3 1064.8 611.5 1082.5 611.5 C1087.5 611.5 1090.0 616.3 1095.0 621.0" fill="none" stroke="#2a6ee6" stroke-width="2.1" stroke-linecap="round" stroke-dasharray="0.01 4.0" opacity="1"/>
<path d="M1173.3 602.5 C1166.8 607.9 1164.7 613.3 1158.9 613.3 C1140.9 613.3 1125.5 611.5 1107.5 611.5 C1102.5 611.5 1100.0 616.3 1095.0 621.0" fill="none" stroke="#2a6ee6" stroke-width="2.1" stroke-linecap="round" stroke-dasharray="0.01 4.0" opacity="1"/>
<text x="296.20" y="13.80" font-size="13.5" letter-spacing="2.47" font-weight="400" fill="#2565b8" dominant-baseline="central">智慧政务</text>
<text x="423.06" y="13.80" font-size="13.5" letter-spacing="2.83" font-weight="400" fill="#2565b8" dominant-baseline="central">智慧教育</text>
<text x="549.20" y="13.80" font-size="13.5" letter-spacing="2.83" font-weight="400" fill="#2565b8" dominant-baseline="central">智慧交通</text>
<text x="675.84" y="13.80" font-size="13.5" letter-spacing="2.67" font-weight="400" fill="#2565b8" dominant-baseline="central">智慧金融</text>
<text x="804.78" y="13.80" font-size="13.5" letter-spacing="2.63" font-weight="400" fill="#2565b8" dominant-baseline="central">智慧景区</text>
<text x="929.70" y="13.80" font-size="13.5" letter-spacing="2.70" font-weight="400" fill="#2565b8" dominant-baseline="central">智慧医疗</text>
<text x="1057.42" y="15.90" font-size="13.5" letter-spacing="2.63" font-weight="400" fill="#2565b8" dominant-baseline="central">智慧社区</text>
<text x="80.92" y="92.60" font-size="17.2" letter-spacing="3.80" font-weight="500" fill="#1d5fb6" stroke="#1d5fb6" stroke-width="0.2" dominant-baseline="central">大数据</text>
<text x="91.20" y="119.90" font-size="17.2" letter-spacing="4.10" font-weight="500" fill="#1d5fb6" stroke="#1d5fb6" stroke-width="0.2" dominant-baseline="central">分析</text>
<text x="70.20" y="147.60" font-size="17.2" letter-spacing="3.60" font-weight="500" fill="#1d5fb6" stroke="#1d5fb6" stroke-width="0.2" dominant-baseline="central">决策中心</text>
<text x="79.64" y="326.60" font-size="17.2" letter-spacing="3.80" font-weight="500" fill="#1d5fb6" stroke="#1d5fb6" stroke-width="0.2" dominant-baseline="central">物联网</text>
<text x="60.00" y="353.80" font-size="17.2" letter-spacing="3.52" font-weight="500" fill="#1d5fb6" stroke="#1d5fb6" stroke-width="0.2" dominant-baseline="central">设备与数据</text>
<text x="68.98" y="382.10" font-size="17.2" letter-spacing="3.63" font-weight="500" fill="#1d5fb6" stroke="#1d5fb6" stroke-width="0.2" dominant-baseline="central">管理平台</text>
<text x="68.98" y="543.20" font-size="17.2" letter-spacing="4.10" font-weight="500" fill="#1d5fb6" stroke="#1d5fb6" stroke-width="0.2" dominant-baseline="central">人工智能</text>
<text x="68.28" y="569.50" font-size="17.2" letter-spacing="3.35" font-weight="500" fill="#1d5fb6" stroke="#1d5fb6" stroke-width="0.2" dominant-baseline="central"><tspan stroke="#1d5fb6" stroke-width="0.45">AI</tspan>云计算</text>
<text x="89.84" y="598.20" font-size="17.2" letter-spacing="3.80" font-weight="500" fill="#1d5fb6" stroke="#1d5fb6" stroke-width="0.2" dominant-baseline="central">平台</text>
<text x="275.06" y="91.20" font-size="17" letter-spacing="3.90" font-weight="500" fill="#266ac6" stroke="#266ac6" stroke-width="0.2" dominant-baseline="central">运维平台</text>
<text x="284.28" y="109.20" font-size="11.5" letter-spacing="2.27" font-weight="400" fill="#8fb6ec" dominant-baseline="central">Manager</text>
<text font-weight="500" fill="#1f5fb8" dominant-baseline="central"><tspan x="703.64" y="84.20" font-size="16.2" letter-spacing="2.40" font-weight="400" stroke="#1f5fb8" stroke-width="0.5">API/SDK</tspan><tspan x="783.34" y="83.70" font-size="16" letter-spacing="2.50" stroke="#1f5fb8" stroke-width="0.3">共享服务接口</tspan></text>
<text x="921.06" y="87.00" font-size="12" letter-spacing="1.10" font-weight="400" fill="#6f9de0" dominant-baseline="central">服务</text>
<text x="601.28" y="154.50" font-size="12" letter-spacing="-0.23" font-weight="400" fill="#2264c0" dominant-baseline="central">可视化平台</text>
<text x="608.84" y="172.80" font-size="12" letter-spacing="-0.62" font-weight="400" fill="#2264c0" dominant-baseline="central">SDC UE</text>
<text x="719.00" y="154.50" font-size="12" letter-spacing="-0.20" font-weight="400" fill="#2264c0" dominant-baseline="central">3D可视化平台</text>
<text x="734.34" y="172.80" font-size="12" letter-spacing="-0.82" font-weight="400" fill="#2264c0" dominant-baseline="central">SDC ME</text>
<text x="847.28" y="154.50" font-size="12" letter-spacing="0.10" font-weight="400" fill="#2264c0" dominant-baseline="central">商业智能平台</text>
<text x="861.84" y="172.80" font-size="12" letter-spacing="-0.46" font-weight="400" fill="#2264c0" dominant-baseline="central">SDC BE</text>
<text x="974.14" y="154.50" font-size="12" letter-spacing="0.10" font-weight="400" fill="#2264c0" dominant-baseline="central">挖掘分析平台</text>
<text x="980.20" y="172.80" font-size="12" letter-spacing="-0.04" font-weight="400" fill="#2264c0" dominant-baseline="central">SDC Miner</text>
<text x="674.50" y="297.30" font-size="12" letter-spacing="1.50" font-weight="400" fill="#6b93d8" dominant-baseline="central">可视化</text>
<text x="931.56" y="297.00" font-size="12" letter-spacing="0.50" font-weight="400" fill="#6b93d8" dominant-baseline="central">分析</text>
<text x="279.06" y="255.90" font-size="13.4" letter-spacing="2.73" font-weight="400" fill="#2d6fd2" dominant-baseline="central">用户管理</text>
<text x="279.06" y="299.90" font-size="13.4" letter-spacing="2.80" font-weight="400" fill="#2d6fd2" dominant-baseline="central">资源管理</text>
<text x="278.26" y="343.90" font-size="13.4" letter-spacing="3.07" font-weight="400" fill="#2d6fd2" dominant-baseline="central">系统监控</text>
<text x="277.46" y="387.90" font-size="13.4" letter-spacing="3.33" font-weight="400" fill="#2d6fd2" dominant-baseline="central">日志审计</text>
<text x="279.06" y="431.90" font-size="13.4" letter-spacing="2.80" font-weight="400" fill="#2d6fd2" dominant-baseline="central">安全管理</text>
<text x="279.06" y="475.90" font-size="13.4" letter-spacing="2.73" font-weight="400" fill="#2d6fd2" dominant-baseline="central">资源调度</text>
<text x="279.06" y="519.90" font-size="13.4" letter-spacing="2.73" font-weight="400" fill="#2d6fd2" dominant-baseline="central">安装部署</text>
<text x="504.28" y="411.40" font-size="13.8" letter-spacing="2.14" font-weight="700" fill="#1d5db8" dominant-baseline="central">数据治理平台</text>
<text x="509.84" y="427.90" font-size="12" letter-spacing="1.50" font-weight="400" fill="#86b0ec" dominant-baseline="central">SDC Govern</text>
<text x="785.06" y="413.00" font-size="13.6" letter-spacing="2.54" font-weight="700" fill="#1d5db8" dominant-baseline="central">存储计算平台</text>
<text x="757.70" y="429.80" font-size="12" letter-spacing="1.97" font-weight="400" fill="#86b0ec" dominant-baseline="central">SDC Data Platform</text>
<text x="1067.50" y="412.30" font-size="13.6" letter-spacing="2.63" font-weight="700" fill="#1d5db8" dominant-baseline="central">融合数据</text>
<text x="1070.70" y="429.80" font-size="12" letter-spacing="1.05" font-weight="400" fill="#86b0ec" dominant-baseline="central">SDC ETL</text>
<text x="484.28" y="555.60" font-size="12" letter-spacing="2.00" font-weight="400" fill="#2467c6" dominant-baseline="central">元数据</text>
<text x="558.14" y="555.60" font-size="12" letter-spacing="1.50" font-weight="400" fill="#2467c6" dominant-baseline="central">数据标准</text>
<text x="484.28" y="582.95" font-size="12" letter-spacing="1.50" font-weight="400" fill="#2467c6" dominant-baseline="central">数据模型</text>
<text x="558.14" y="582.95" font-size="12" letter-spacing="1.50" font-weight="400" fill="#2467c6" dominant-baseline="central">数据质量</text>
<text x="484.28" y="610.30" font-size="12" letter-spacing="2.00" font-weight="400" fill="#2467c6" dominant-baseline="central">数据服务</text>
<text x="558.14" y="610.30" font-size="12" letter-spacing="2.00" font-weight="400" fill="#2467c6" dominant-baseline="central">数据资产</text>
<text x="765.34" y="550.40" font-size="13.6" letter-spacing="2.39" font-weight="700" fill="#1d5db8" dominant-baseline="central">DS机器数据搜索</text>
<text x="666.92" y="604.40" font-size="12" letter-spacing="2.17" font-weight="400" fill="#2467c6" dominant-baseline="central">边缘计算</text>
<text x="754.64" y="604.40" font-size="12" letter-spacing="1.97" font-weight="400" fill="#2467c6" dominant-baseline="central">规则引擎</text>
<text x="842.28" y="604.40" font-size="12" letter-spacing="1.57" font-weight="400" fill="#2467c6" dominant-baseline="central">数据探索</text>
<text x="929.20" y="604.40" font-size="12" letter-spacing="1.97" font-weight="400" fill="#2467c6" dominant-baseline="central">分析引擎</text>
<text x="664.48" y="625.60" font-size="12" letter-spacing="1.79" font-weight="400" fill="#2467c6" dominant-baseline="central">SDC Hadoop</text>
<text x="765.84" y="626.80" font-size="12" letter-spacing="1.73" font-weight="400" fill="#2467c6" dominant-baseline="central">分布式时序数据库</text>
<text x="889.28" y="626.80" font-size="12" letter-spacing="1.80" font-weight="400" fill="#2467c6" dominant-baseline="central">分布式图数据库</text>
<text x="795.42" y="694.80" font-size="12" letter-spacing="1.50" font-weight="400" fill="#6f9de0" dominant-baseline="central">存储&amp;计算</text>
<text x="1013.28" y="556.20" font-size="12" letter-spacing="1.90" font-weight="400" fill="#2467c6" dominant-baseline="central">数据接入</text>
<text x="1124.28" y="556.20" font-size="12" letter-spacing="1.77" font-weight="400" fill="#2467c6" dominant-baseline="central">数据安全</text>
<text x="1013.28" y="583.60" font-size="12" letter-spacing="1.86" font-weight="400" fill="#2467c6" dominant-baseline="central">实时数据采集</text>
<text x="1124.28" y="583.60" font-size="12" letter-spacing="1.63" font-weight="400" fill="#2467c6" dominant-baseline="central">任务调度</text>
<text x="1084.20" y="645.30" font-size="12" letter-spacing="1.50" font-weight="400" fill="#6f9de0" dominant-baseline="central">采集</text>
</svg>
</body></html>
